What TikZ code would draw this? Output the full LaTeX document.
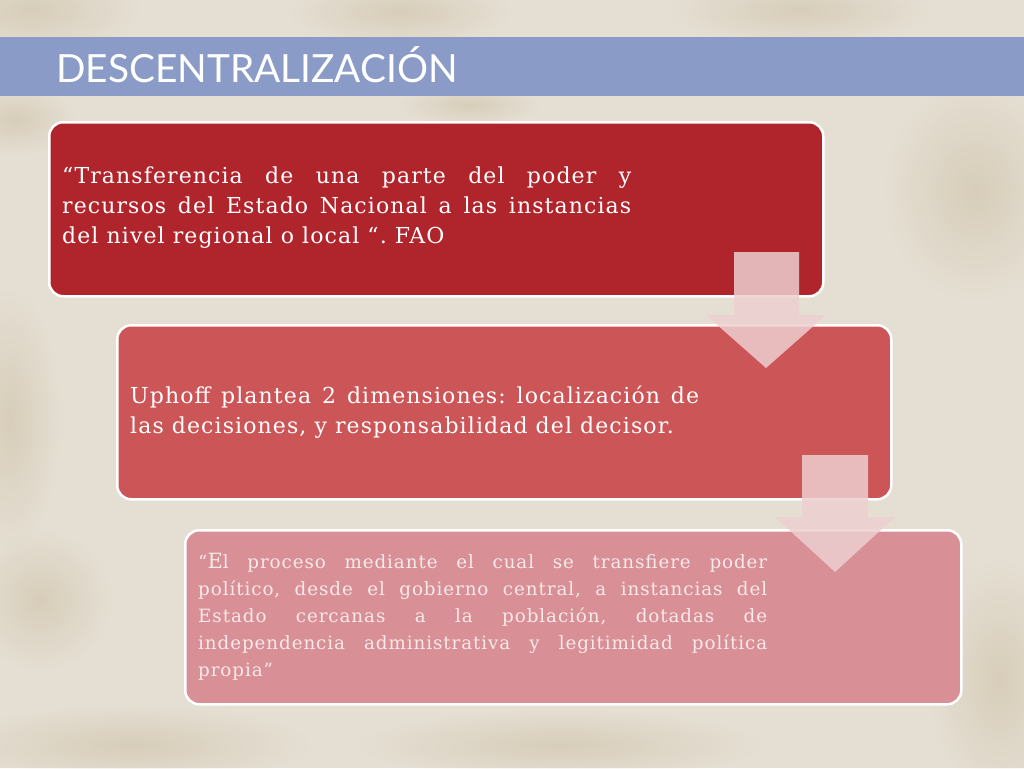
\documentclass[tikz,border=0pt]{standalone}
\usepackage{fontspec}
\setmainfont{DejaVu Serif}
\newfontfamily\boxfont[LetterSpace=5]{DejaVu Serif}
\newfontfamily\titlefont{Lato}
\usetikzlibrary{fadings}
\tikzfading[name=softspot, inner color=transparent!0, outer color=transparent!100]
\definecolor{bgc}{HTML}{E5DFD3}
\definecolor{stain}{HTML}{B8A47E}
\definecolor{bandc}{HTML}{8A9BC8}
\definecolor{boxa}{HTML}{B0252C}
\definecolor{boxb}{HTML}{CC5557}
\definecolor{boxc}{HTML}{D88F95}
\definecolor{arrowc}{HTML}{EDCFD0}
\definecolor{txtc}{HTML}{F8E9EA}
\frenchspacing
\begin{document}
\begin{tikzpicture}[x=1pt,y=-1pt,
  boxstyle/.style={draw=white, line width=2.5pt, rounded corners=14pt, anchor=north west,
    minimum width=774pt, minimum height=174pt, inner sep=0pt},
  txtstyle/.style={anchor=west, text width=569pt, align=justify, inner sep=0pt, text=white,
    font=\boxfont\fontsize{22}{30}\selectfont\frenchspacing\relax},
  blockarrow/.style={fill=arrowc, opacity=0.85},
  stainstyle/.style={fill=stain, path fading=softspot, opacity=0.3}]
\useasboundingbox (0,0) rectangle (1024,768);
% background
\fill[bgc] (0,0) rectangle (1024,768);
\fill[stainstyle] (30,10) ellipse (110pt and 45pt);
\fill[stainstyle] (400,12) ellipse (110pt and 35pt);
\fill[stainstyle] (470,105) ellipse (70pt and 20pt);
\fill[stainstyle] (800,10) ellipse (130pt and 35pt);
\fill[stainstyle] (15,120) ellipse (60pt and 35pt);
\fill[stainstyle] (975,190) ellipse (90pt and 110pt);
\fill[stainstyle] (10,420) ellipse (50pt and 130pt);
\fill[stainstyle] (1000,680) ellipse (70pt and 120pt);
\fill[stainstyle] (130,745) ellipse (180pt and 40pt);
\fill[stainstyle] (560,745) ellipse (200pt and 35pt);
\fill[stainstyle] (40,600) ellipse (70pt and 70pt);
% title band
\fill[bandc] (0,37) rectangle (1024,96);
\node[anchor=base west, inner sep=0pt, text=white, font=\titlefont\fontsize{38.8}{40}\selectfont]
  (title) at (56,82) {DESCENTRALIZACIÓN};
% boxes
\node[boxstyle, fill=boxa] (b1) at (48,121) {};
\node[boxstyle, fill=boxb] (b2) at (116,324) {};
\node[boxstyle, fill=boxc, minimum width=776pt] (b3) at (184,529) {};
% texts
\node[txtstyle] (t1) at (62,208) {“Transferencia de una parte del poder y\linebreak
  recursos del Estado Nacional a las instancias\linebreak
  del nivel regional o local “. FAO};
\node[txtstyle] (t2) at (130,412) {Uphoff plantea 2 dimensiones: localización de\linebreak
  las decisiones, y responsabilidad del decisor.};
\node[txtstyle, text=txtc, font=\boxfont\fontsize{18.3}{27}\selectfont\frenchspacing\relax] (t3) at (198,617)
  {“{\fontsize{21}{27}\selectfont E}l proceso mediante el cual se transfiere poder\linebreak
  político, desde el gobierno central, a instancias del\linebreak
  Estado cercanas a la población, dotadas de\linebreak
  independencia administrativa y legitimidad política\linebreak
  propia”};
% block arrows
\fill[blockarrow] (734,252) -- (799,252) -- (799,315) -- (826,315) -- (766,368)
  -- (706,315) -- (734,315) -- cycle;
\fill[blockarrow] (802,455) -- (868,455) -- (868,517) -- (895,517) -- (835,572)
  -- (775,517) -- (802,517) -- cycle;
\end{tikzpicture}
\end{document}
